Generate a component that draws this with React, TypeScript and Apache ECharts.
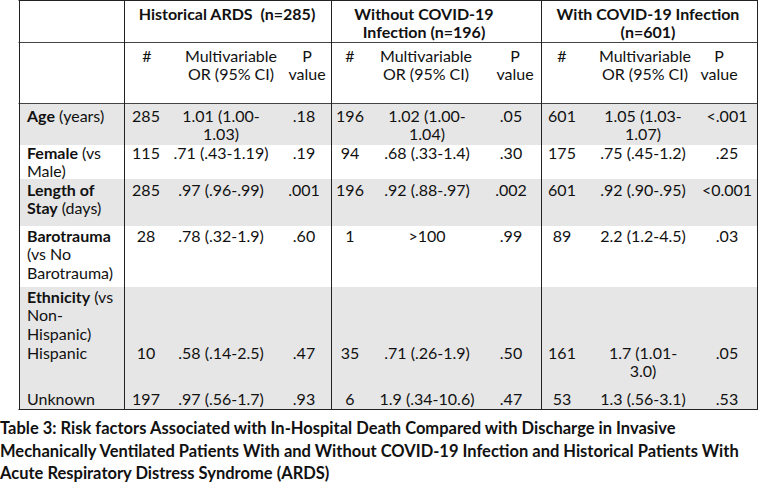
import React, { useEffect, useRef } from "react";
import * as echarts from "echarts";

// ---- Data ----
const groupHeaders = [
  ["Historical ARDS  (n=285)"],
  ["Without COVID-19", "Infection (n=196)"],
  ["With COVID-19 Infection", "(n=601)"],
];
const subHeaders = [["#"], ["Multivariable", "OR (95% CI)"], ["P", "value"]];

const rowLabels = [
  ["{b|Age} (years)"],
  ["{b|Female} (vs", "Male)"],
  ["{b|Length of}", "{b|Stay} (days)"],
  ["{b|Barotrauma}", "(vs No", "Barotrauma)"],
  ["{b|Ethnicity} (vs", "Non-", "Hispanic)"],
  ["Hispanic"],
  ["Unknown"],
];

const historicalN = ["285", "115", "285", "28", "", "10", "197"];
const historicalOR = ["1.01 (1.00-\n1.03)", ".71 (.43-1.19)", ".97 (.96-.99)", ".78 (.32-1.9)", "", ".58 (.14-2.5)", ".97 (.56-1.7)"];
const historicalP = [".18", ".19", ".001", ".60", "", ".47", ".93"];

const withoutN = ["196", "94", "196", "1", "", "35", "6"];
const withoutOR = ["1.02 (1.00-\n1.04)", ".68 (.33-1.4)", ".92 (.88-.97)", ">100", "", ".71 (.26-1.9)", "1.9 (.34-10.6)"];
const withoutP = [".05", ".30", ".002", ".99", "", ".50", ".47"];

const withN = ["601", "175", "601", "89", "", "161", "53"];
const withOR = ["1.05 (1.03-\n1.07)", ".75 (.45-1.2)", ".92 (.90-.95)", "2.2 (1.2-4.5)", "", "1.7 (1.01-\n3.0)", "1.3 (.56-3.1)"];
const withP = ["<.001", ".25", "<0.001", ".03", "", ".05", ".53"];

const captionLines = [
  "Table 3: Risk factors Associated with In-Hospital Death Compared with Discharge in Invasive",
  "Mechanically Ventilated Patients With and Without COVID-19 Infection and Historical Patients With",
  "Acute Respiratory Distress Syndrome (ARDS)",
];

// ---- Layout (positions/styles) ----
const FONT = "Lato";
const FS = 16;
const LINE = 18.5;
const colX = [19, 124, 331, 541, 757];
const tableTop = 0.5;
const headerLines = [42, 103];
const tableBottom = 409;
const rowBands: [number, number, boolean][] = [
  [103, 145, true],
  [145, 179, false],
  [179, 226, true],
  [226, 287, false],
  [287, 409, true],
];
const rowFirstY = [115, 152.5, 189, 235, 296, 352, 398];
const rowLineStep = [18.5, 18, 18.5, 18.5, 18.5, 18.5, 18.5];
const groupCenters = [227, 424, 648];
const subHeaderCenters = [
  [147, 231, 307],
  [350, 426, 515],
  [562, 645, 719],
];
const dataCenters = [
  [146, 221, 304],
  [350, 427, 511],
  [562, 643, 727],
];

function txt(x: number, y: number, text: string, align: string, bold = false, extra: any = {}) {
  return {
    type: "text",
    x,
    y,
    silent: true,
    style: {
      text,
      fill: "#111",
      font: `${bold ? "bold " : ""}${FS}px ${FONT}`,
      fontFamily: FONT,
      fontSize: FS,
      fontWeight: bold ? "bold" : "normal",
      lineHeight: 14,
      align,
      verticalAlign: "middle",
      ...extra,
    },
  };
}

export default function App() {
  const ref = useRef<HTMLDivElement>(null);
  useEffect(() => {
    document.body.style.margin = "0";
    const chart = echarts.init(ref.current!, null, { renderer: "svg" });
    const els: any[] = [];
    // backgrounds
    rowBands.forEach(([y0, y1, gray]) => {
      if (gray)
        els.push({
          type: "rect",
          silent: true,
          shape: { x: colX[0], y: y0, width: colX[4] - colX[0], height: y1 - y0 },
          style: { fill: "#e6e6e6" },
        });
    });
    // borders
    const hline = (y: number, color: string) =>
      els.push({
        type: "line",
        silent: true,
        shape: { x1: colX[0] - 0.5, y1: y, x2: colX[4] + 0.5, y2: y },
        style: { stroke: color, lineWidth: 1 },
      });
    hline(tableTop, "#222");
    headerLines.forEach((y) => hline(y + 0.5, "#444"));
    hline(tableBottom + 0.5, "#222");
    colX.forEach((x) =>
      els.push({
        type: "line",
        silent: true,
        shape: { x1: x + 0.5, y1: 0, x2: x + 0.5, y2: tableBottom + 1 },
        style: { stroke: "#222", lineWidth: 1 },
      })
    );
    // group headers
    groupHeaders.forEach((lines, g) =>
      lines.forEach((l, i) => els.push(txt(groupCenters[g], 13 + i * LINE, l, "center", true)))
    );
    // sub headers
    subHeaderCenters.forEach((centers) =>
      subHeaders.forEach((lines, c) =>
        lines.forEach((l, i) => els.push(txt(centers[c], 55 + i * LINE, l, "center")))
      )
    );
    // row labels
    const rich = { b: { fontFamily: FONT, fontSize: FS, fontWeight: "bold", fill: "#111", lineHeight: 14 } };
    rowLabels.forEach((lines, r) =>
      lines.forEach((l, i) =>
        els.push(txt(27, rowFirstY[r] + i * rowLineStep[r], l, "left", false, { rich }))
      )
    );
    // data
    const groups = [
      [historicalN, historicalOR, historicalP],
      [withoutN, withoutOR, withoutP],
      [withN, withOR, withP],
    ];
    groups.forEach((cols, g) =>
      cols.forEach((vals, c) =>
        vals.forEach((v, r) => {
          if (!v) return;
          v.split("\n").forEach((l, i) =>
            els.push(txt(dataCenters[g][c], rowFirstY[r] + i * rowLineStep[r], l, "center"))
          );
        })
      )
    );
    // caption
    captionLines.forEach((l, i) =>
      els.push(
        txt(0, 428 + i * 22.5, l, "left", true, {
          fontSize: 16.5,
          font: `bold 16.5px ${FONT}`,
          lineHeight: 18,
        })
      )
    );
    chart.setOption({ animation: false, graphic: { elements: els } });
    return () => chart.dispose();
  }, []);
  return (
    <div
      ref={ref}
      style={{ position: "absolute", left: 0, top: 0, width: 761, height: 487, background: "#fff" }}
    />
  );
}
